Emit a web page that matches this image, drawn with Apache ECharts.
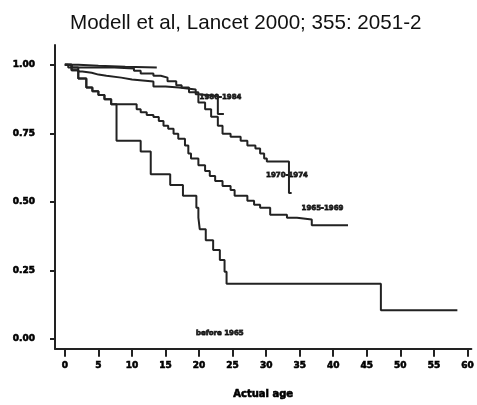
<!DOCTYPE html>
<html style="height: 100%">
<head>
    <meta charset="UTF-8">
    <script src="https://cdn.jsdelivr.net/npm/echarts@6/dist/echarts.min.js"></script>
</head>
<body style="margin: 0; background-color: #FFFFFF">
    <div id="paint" style="width: 477px; height: 405px;"></div>
<script>
    // survival curves, [age, fraction surviving]
    var curveA = [[0, 1], [2, 0.996], [5, 0.993], [9, 0.99], [13.7, 0.99]];
    var curveB = [[0, 1], [1, 0.99], [2, 0.975], [2.6, 0.971], [4, 0.964], [5, 0.96], [6.2, 0.953], [8.4, 0.946],
        [10, 0.939], [13.2, 0.921], [15, 0.917], [17, 0.91], [19.5, 0.892], [20, 0.885], [22.8, 0.82], [23.7, 0.82]];
    var curveC = [[0, 1], [0.5, 0.99], [7.4, 0.986], [10.3, 0.978], [11.3, 0.968], [13.2, 0.96], [14.3, 0.953],
        [15.3, 0.94], [16.6, 0.925], [17.4, 0.917], [18.5, 0.9], [19.9, 0.862], [20.9, 0.838], [21.8, 0.81],
        [22.8, 0.777], [23.5, 0.748], [24.7, 0.737], [26.2, 0.723], [27.2, 0.705], [28.4, 0.694], [29.1, 0.676],
        [29.7, 0.658], [30.1, 0.647], [33.4, 0.532], [33.8, 0.532]];
    var curveD = [[0, 1], [1, 0.98], [2, 0.95], [3.2, 0.917], [4.1, 0.903], [5, 0.89], [5.9, 0.874], [6.9, 0.856],
        [10.7, 0.838], [11.3, 0.827], [12.2, 0.817], [13.2, 0.809], [14, 0.795], [14.7, 0.777], [15.4, 0.766],
        [16.2, 0.748], [16.9, 0.73], [17.9, 0.705], [18.4, 0.676], [18.8, 0.658], [19.9, 0.633], [20.9, 0.612],
        [21.6, 0.594], [22.4, 0.576], [23.5, 0.558], [24.7, 0.543], [25.3, 0.522], [27.2, 0.504], [28.2, 0.489],
        [29.1, 0.478], [30.6, 0.453], [33.1, 0.442], [34.6, 0.435], [36.8, 0.414], [42.2, 0.414]];
    var curveE = [[0, 1], [1, 0.98], [2, 0.95], [3.2, 0.917], [4.1, 0.903], [5, 0.89], [5.9, 0.874], [6.9, 0.856],
        [7.7, 0.723], [11.3, 0.683], [12.8, 0.6], [15.7, 0.561], [17.6, 0.522], [19.6, 0.478], [19.9, 0.442],
        [20.1, 0.4], [21, 0.36], [22.1, 0.324], [23.1, 0.288], [23.8, 0.245], [24.1, 0.201], [47.1, 0.104], [58.5, 0.104]];

    var cohortNames = ['1980-1984', '1970-1974', '1965-1969', 'before 1965'];
    var cohortLabelAt = [[23.2, 0.881], [33.1, 0.597], [38.4, 0.475], [23.1, 0.022]];

    var xTicks = [0, 5, 10, 15, 20, 25, 30, 35, 40, 45, 50, 55, 60];
    var yTicks = [0, 0.25, 0.5, 0.75, 1];

    var lineColor = '#222222';
    function km(d) {
        return {
            type: 'line', step: 'end', data: d, symbol: 'none', silent: true,
            lineStyle: {color: lineColor, width: 2}
        };
    }

    var labelData = cohortNames.map(function (n, i) {
        return {name: n, value: cohortLabelAt[i]};
    });

    echarts.init(document.getElementById('paint')).setOption({
        animation: false,
        backgroundColor: '#FFFFFF',
        title: {
            text: 'Modell et al, Lancet 2000; 355: 2051-2',
            left: 65,
            top: 7,
            textStyle: {fontFamily: 'Liberation Sans', fontSize: 20.6, fontWeight: 'normal', color: '#111111', lineHeight: 22}
        },
        grid: {left: 55, right: 0, top: 45, bottom: 52},
        xAxis: {
            type: 'value',
            min: -1.47,
            max: 60.59,
            name: 'Actual age',
            nameLocation: 'middle',
            nameGap: 41,
            nameTextStyle: {fontFamily: 'DejaVu Sans', fontSize: 10, fontWeight: 'bold', color: '#000',
                textBorderColor: '#000', textBorderWidth: 0.6},
            axisLine: {show: true, onZero: false, lineStyle: {color: lineColor, width: 2}},
            axisTick: {show: true, customValues: xTicks, length: 8, lineStyle: {color: lineColor, width: 2}},
            axisLabel: {customValues: xTicks, margin: 12, fontFamily: 'DejaVu Sans', fontSize: 9, fontWeight: 'bold', color: '#000',
                textBorderColor: '#000', textBorderWidth: 0.6},
            splitLine: {show: false}
        },
        yAxis: {
            type: 'value',
            min: -0.036,
            max: 1.072,
            axisLine: {show: true, onZero: false, lineStyle: {color: lineColor, width: 2}},
            axisTick: {show: true, customValues: yTicks, length: 5, lineStyle: {color: lineColor, width: 2}},
            axisLabel: {
                customValues: yTicks, margin: 20, fontFamily: 'DejaVu Sans', fontSize: 9, fontWeight: 'bold', color: '#000',
                textBorderColor: '#000', textBorderWidth: 0.6,
                formatter: function (v) { return v.toFixed(2); }
            },
            splitLine: {show: false}
        },
        series: [
            km(curveA), km(curveB), km(curveC), km(curveD), km(curveE),
            {
                type: 'scatter',
                data: labelData,
                symbolSize: 0,
                silent: true,
                label: {
                    show: true, position: 'inside', formatter: '{b}',
                    fontFamily: 'DejaVu Sans', fontSize: 7, fontWeight: 'bold', color: '#000',
                    textBorderColor: '#000', textBorderWidth: 0.8,
                    backgroundColor: '#FFFFFF', padding: [1, 0]
                }
            }
        ]
    });
</script>
</body>
</html>
